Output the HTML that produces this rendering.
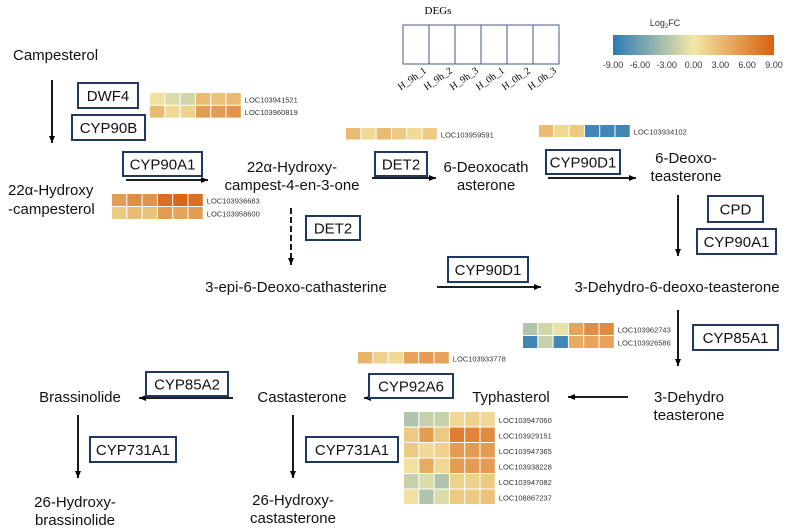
<!DOCTYPE html>
<html><head><meta charset="utf-8"><style>
html,body{margin:0;padding:0;background:#fff}
svg{display:block}
.t{font-family:"Liberation Sans","DejaVu Sans",sans-serif;font-size:15px;fill:#111}
.e{font-family:"Liberation Sans","DejaVu Sans",sans-serif;font-size:15px;fill:#111;text-anchor:middle}
.loc{font-family:"Liberation Sans",sans-serif;font-size:7.5px;fill:#333}
.box{fill:#fff;stroke:#1f3864;stroke-width:2}
.ar{stroke:#000;stroke-width:1.8;fill:none}
</style></head><body>
<svg id="s" width="791" height="532" viewBox="0 0 791 532" xmlns="http://www.w3.org/2000/svg">
<defs><marker id="ah" markerWidth="8" markerHeight="8" refX="7" refY="4" orient="auto" markerUnits="userSpaceOnUse"><path d="M0,1 L7,4 L0,7 Z" fill="#000"/></marker>
<linearGradient id="cg" x1="0" x2="1"><stop offset="0" stop-color="#2c7bb6"/><stop offset="0.5" stop-color="#f2e8a6"/><stop offset="1" stop-color="#d95f0e"/></linearGradient></defs>

<!-- legend DEGs -->
<text x="438" y="14" text-anchor="middle" style="font-family:'Liberation Serif',serif;font-size:11px">DEGs</text>
<g id="degs"></g>
<text x="665" y="26" text-anchor="middle" style="font-family:'Liberation Sans',sans-serif;font-size:9px;fill:#333">Log<tspan font-size="6" dy="2">2</tspan><tspan dy="-2">FC</tspan></text>
<rect x="613" y="35" width="161" height="20" fill="url(#cg)"/>
<g id="cbt"></g>

<!-- compounds -->
<text class="t" x="13" y="60">Campesterol</text>
<text class="t" x="8" y="195">22α-Hydroxy<tspan x="8" dy="19">-campesterol</tspan></text>
<text class="e" x="292" y="172">22α-Hydroxy-<tspan x="292" dy="18">campest-4-en-3-one</tspan></text>
<text class="e" x="486" y="172">6-Deoxocath<tspan x="486" dy="18">asterone</tspan></text>
<text class="e" x="686" y="163">6-Deoxo-<tspan x="686" dy="18">teasterone</tspan></text>
<text class="e" x="677" y="292">3-Dehydro-6-deoxo-teasterone</text>
<text class="e" x="296" y="292">3-epi-6-Deoxo-cathasterine</text>
<text class="e" x="689" y="402">3-Dehydro<tspan x="689" dy="18">teasterone</tspan></text>
<text class="e" x="511" y="402">Typhasterol</text>
<text class="e" x="302" y="402">Castasterone</text>
<text class="e" x="80" y="402">Brassinolide</text>
<text class="e" x="75" y="507">26-Hydroxy-<tspan x="75" dy="18">brassinolide</tspan></text>
<text class="e" x="293" y="505">26-Hydroxy-<tspan x="293" dy="18">castasterone</tspan></text>

<!-- arrows -->
<line class="ar" x1="52" y1="80" x2="52" y2="143" marker-end="url(#ah)"/>
<line class="ar" x1="126" y1="180" x2="208" y2="180" marker-end="url(#ah)"/>
<line class="ar" x1="372" y1="178" x2="436" y2="178" marker-end="url(#ah)"/>
<line class="ar" x1="548" y1="178" x2="636" y2="178" marker-end="url(#ah)"/>
<line class="ar" x1="678" y1="195" x2="678" y2="256" marker-end="url(#ah)"/>
<line class="ar" x1="291" y1="208" x2="291" y2="265" stroke-dasharray="6,3" marker-end="url(#ah)"/>
<line class="ar" x1="437" y1="287" x2="541" y2="287" marker-end="url(#ah)"/>
<line class="ar" x1="678" y1="310" x2="678" y2="366" marker-end="url(#ah)"/>
<line class="ar" x1="628" y1="397" x2="568" y2="397" marker-end="url(#ah)"/>
<line class="ar" x1="454" y1="398" x2="364" y2="398" marker-end="url(#ah)"/>
<line class="ar" x1="233" y1="398" x2="139" y2="398" marker-end="url(#ah)"/>
<line class="ar" x1="78" y1="415" x2="78" y2="478" marker-end="url(#ah)"/>
<line class="ar" x1="293" y1="415" x2="293" y2="478" marker-end="url(#ah)"/>

<g id="enz"></g>
<g id="hm"></g>
</svg>
<script>
const enzymeNames=["DWF4","CYP90B","CYP90A1","DET2","CYP90D1","CPD","CYP90A1","DET2","CYP90D1","CYP85A1","CYP92A6","CYP85A2","CYP731A1","CYP731A1"];
const enzymeBoxes=[[78,83,60,25],[72,115,73,25],[123,152,79,24],[375,152,52,24],[546,150,74,24],[708,196,55,26],[697,229,79,25],[306,216,54,24],[448,257,80,25],[693,325,85,25],[369,374,84,24],[146,372,82,24],[90,437,86,25],[306,437,92,25]];
const genes1=["LOC103941521","LOC103960819"];
const vals1=[[0.5,-1,-1.5,3,2.5,3],[3,1,1.5,5,5,5.5]];
const genes2=["LOC103936683","LOC103958600"];
const vals2=[[5,6,5.5,8,8.5,8],[2,3,2.5,5,4.5,5]];
const genes3=["LOC103959591"];
const vals3=[[3,1,3,2,1,2]];
const genes4=["LOC103934102"];
const vals4=[[3,1,2,-8,-8,-8]];
const genes5=["LOC103962743","LOC103926586"];
const vals5=[[-3,-1.5,-0.5,4.5,6,6],[-8,-2,-8,4,4.5,4.5]];
const genes6=["LOC103933778"];
const vals6=[[3.5,1.5,1,4.5,5,4.5]];
const genes7=["LOC103947060","LOC103929151","LOC103947365","LOC103938228","LOC103947082","LOC108867237"];
const vals7=[[-3,-2,-2,1,1.5,1],[2,5,2,7,6.5,6],[2,1,1.5,5,5,5],[0.5,4,1,5,5,5],[-2,-1,-3,1.5,1.5,2],[0.5,-3,-1,2,2,2.5]];
const samples=["H_9h_1","H_9h_2","H_9h_3","H_0h_1","H_0h_2","H_0h_3"];
const cbTicks=["-9.00","-6.00","-3.00","0.00","3.00","6.00","9.00"];

const NS="http://www.w3.org/2000/svg";
function mk(t,a,p){const e=document.createElementNS(NS,t);for(const k in a)e.setAttribute(k,a[k]);p.appendChild(e);return e;}
function lerp(a,b,t){return a.map((v,i)=>Math.round(v+(b[i]-v)*t));}
function col(v){const B=[44,123,182],M=[242,232,166],O=[217,95,14];let c=v<0?lerp(M,B,Math.min(1,-v/9)):lerp(M,O,Math.min(1,v/9));return `rgb(${c})`;}

const enz=document.getElementById('enz');
enzymeNames.forEach((n,i)=>{const [x,y,w,h]=enzymeBoxes[i];
 const r=mk('rect',{x:x,y:y,width:w,height:h,class:'box'},enz);
 
 
 const t=mk('text',{x:x+w/2,y:y+h/2+5.5,class:'e'},enz);t.textContent=n;
 
 });

const hm=document.getElementById('hm');
function heat(genes,vals,x0,y0,cw,ch){vals.forEach((row,r)=>{row.forEach((v,c)=>{
 const e=mk('rect',{x:x0+c*cw,y:y0+r*ch,width:cw-1,height:ch-1,fill:col(v)},hm);
 
 });
 const t=mk('text',{x:x0+6*cw+3,y:y0+r*ch+ch/2+3,class:'loc'},hm);t.textContent=genes[r];
 
 });}
heat(genes1,vals1,150,93,15.3,12.8);
heat(genes2,vals2,112,194,15.3,13);
heat(genes3,vals3,346,128,15.3,12.5);
heat(genes4,vals4,539,125,15.3,13);
heat(genes5,vals5,523,323,15.3,13);
heat(genes6,vals6,358,352,15.3,12.5);
heat(genes7,vals7,404,412,15.3,15.5);

const dg=document.getElementById('degs');
samples.forEach((s,i)=>{const x=403+i*26;
 const r=mk('rect',{x:x,y:25,width:26,height:39,fill:'#fff',stroke:'#4a5a8a','stroke-width':1},dg);
 
 
 const t=mk('text',{x:x+24,y:72,'text-anchor':'end',transform:`rotate(-35 ${x+24} 72)`,style:"font-family:'Liberation Serif',serif;font-size:10px"},dg);t.textContent=s;
 
 });
const cb=document.getElementById('cbt');
cbTicks.forEach((s,i)=>{const t=mk('text',{x:613+i*161/6,y:68,'text-anchor':'middle',style:"font-family:'Liberation Sans',sans-serif;font-size:9px;fill:#333"},cb);t.textContent=s;
 
 });
</script>
</body></html>
